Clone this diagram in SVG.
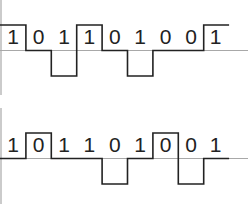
<svg xmlns="http://www.w3.org/2000/svg" width="248" height="204" viewBox="0 0 248 204">
<style>
.axis{stroke:#a8a8a8;stroke-width:1.2;fill:none}
.sig{stroke:#222;stroke-width:1.6;fill:none;stroke-linejoin:miter}
.bit{font-family:"Liberation Sans",Arial,sans-serif;font-size:21px;fill:#222;text-anchor:middle}
</style>
<rect width="248" height="204" fill="#fff"/>
<g id="top">
<line class="axis" x1="1" y1="0" x2="1" y2="95"/>
<line class="axis" x1="0" y1="50.5" x2="248" y2="50.5"/>
<path class="sig" d="M0,25 H25.9 V50.5 H51.3 V76 H76.7 V25 H102.1 V50.5 H127.5 V76 H152.9 V50.5 H203.7 V25 H229.1"/>
<g class="bit">
<text x="13.2" y="44">1</text><text x="38.6" y="44">0</text><text x="64" y="44">1</text><text x="89.4" y="44">1</text><text x="114.8" y="44">0</text><text x="140.2" y="44">1</text><text x="165.6" y="44">0</text><text x="191" y="44">0</text><text x="215.5" y="44">1</text>
</g>
</g>
<g id="bottom">
<line class="axis" x1="1" y1="108" x2="1" y2="204"/>
<line class="axis" x1="0" y1="158.5" x2="248" y2="158.5"/>
<path class="sig" d="M0,158.5 H25.9 V133 H51.3 V158.5 H102.1 V184 H127.5 V158.5 H152.9 V133 H178.3 V184 H203.7 V158.5 H229.1"/>
<g class="bit">
<text x="13.2" y="152">1</text><text x="38.6" y="152">0</text><text x="64" y="152">1</text><text x="89.4" y="152">1</text><text x="114.8" y="152">0</text><text x="140.2" y="152">1</text><text x="165.6" y="152">0</text><text x="191" y="152">0</text><text x="215.5" y="152">1</text>
</g>
</g>
</svg>
